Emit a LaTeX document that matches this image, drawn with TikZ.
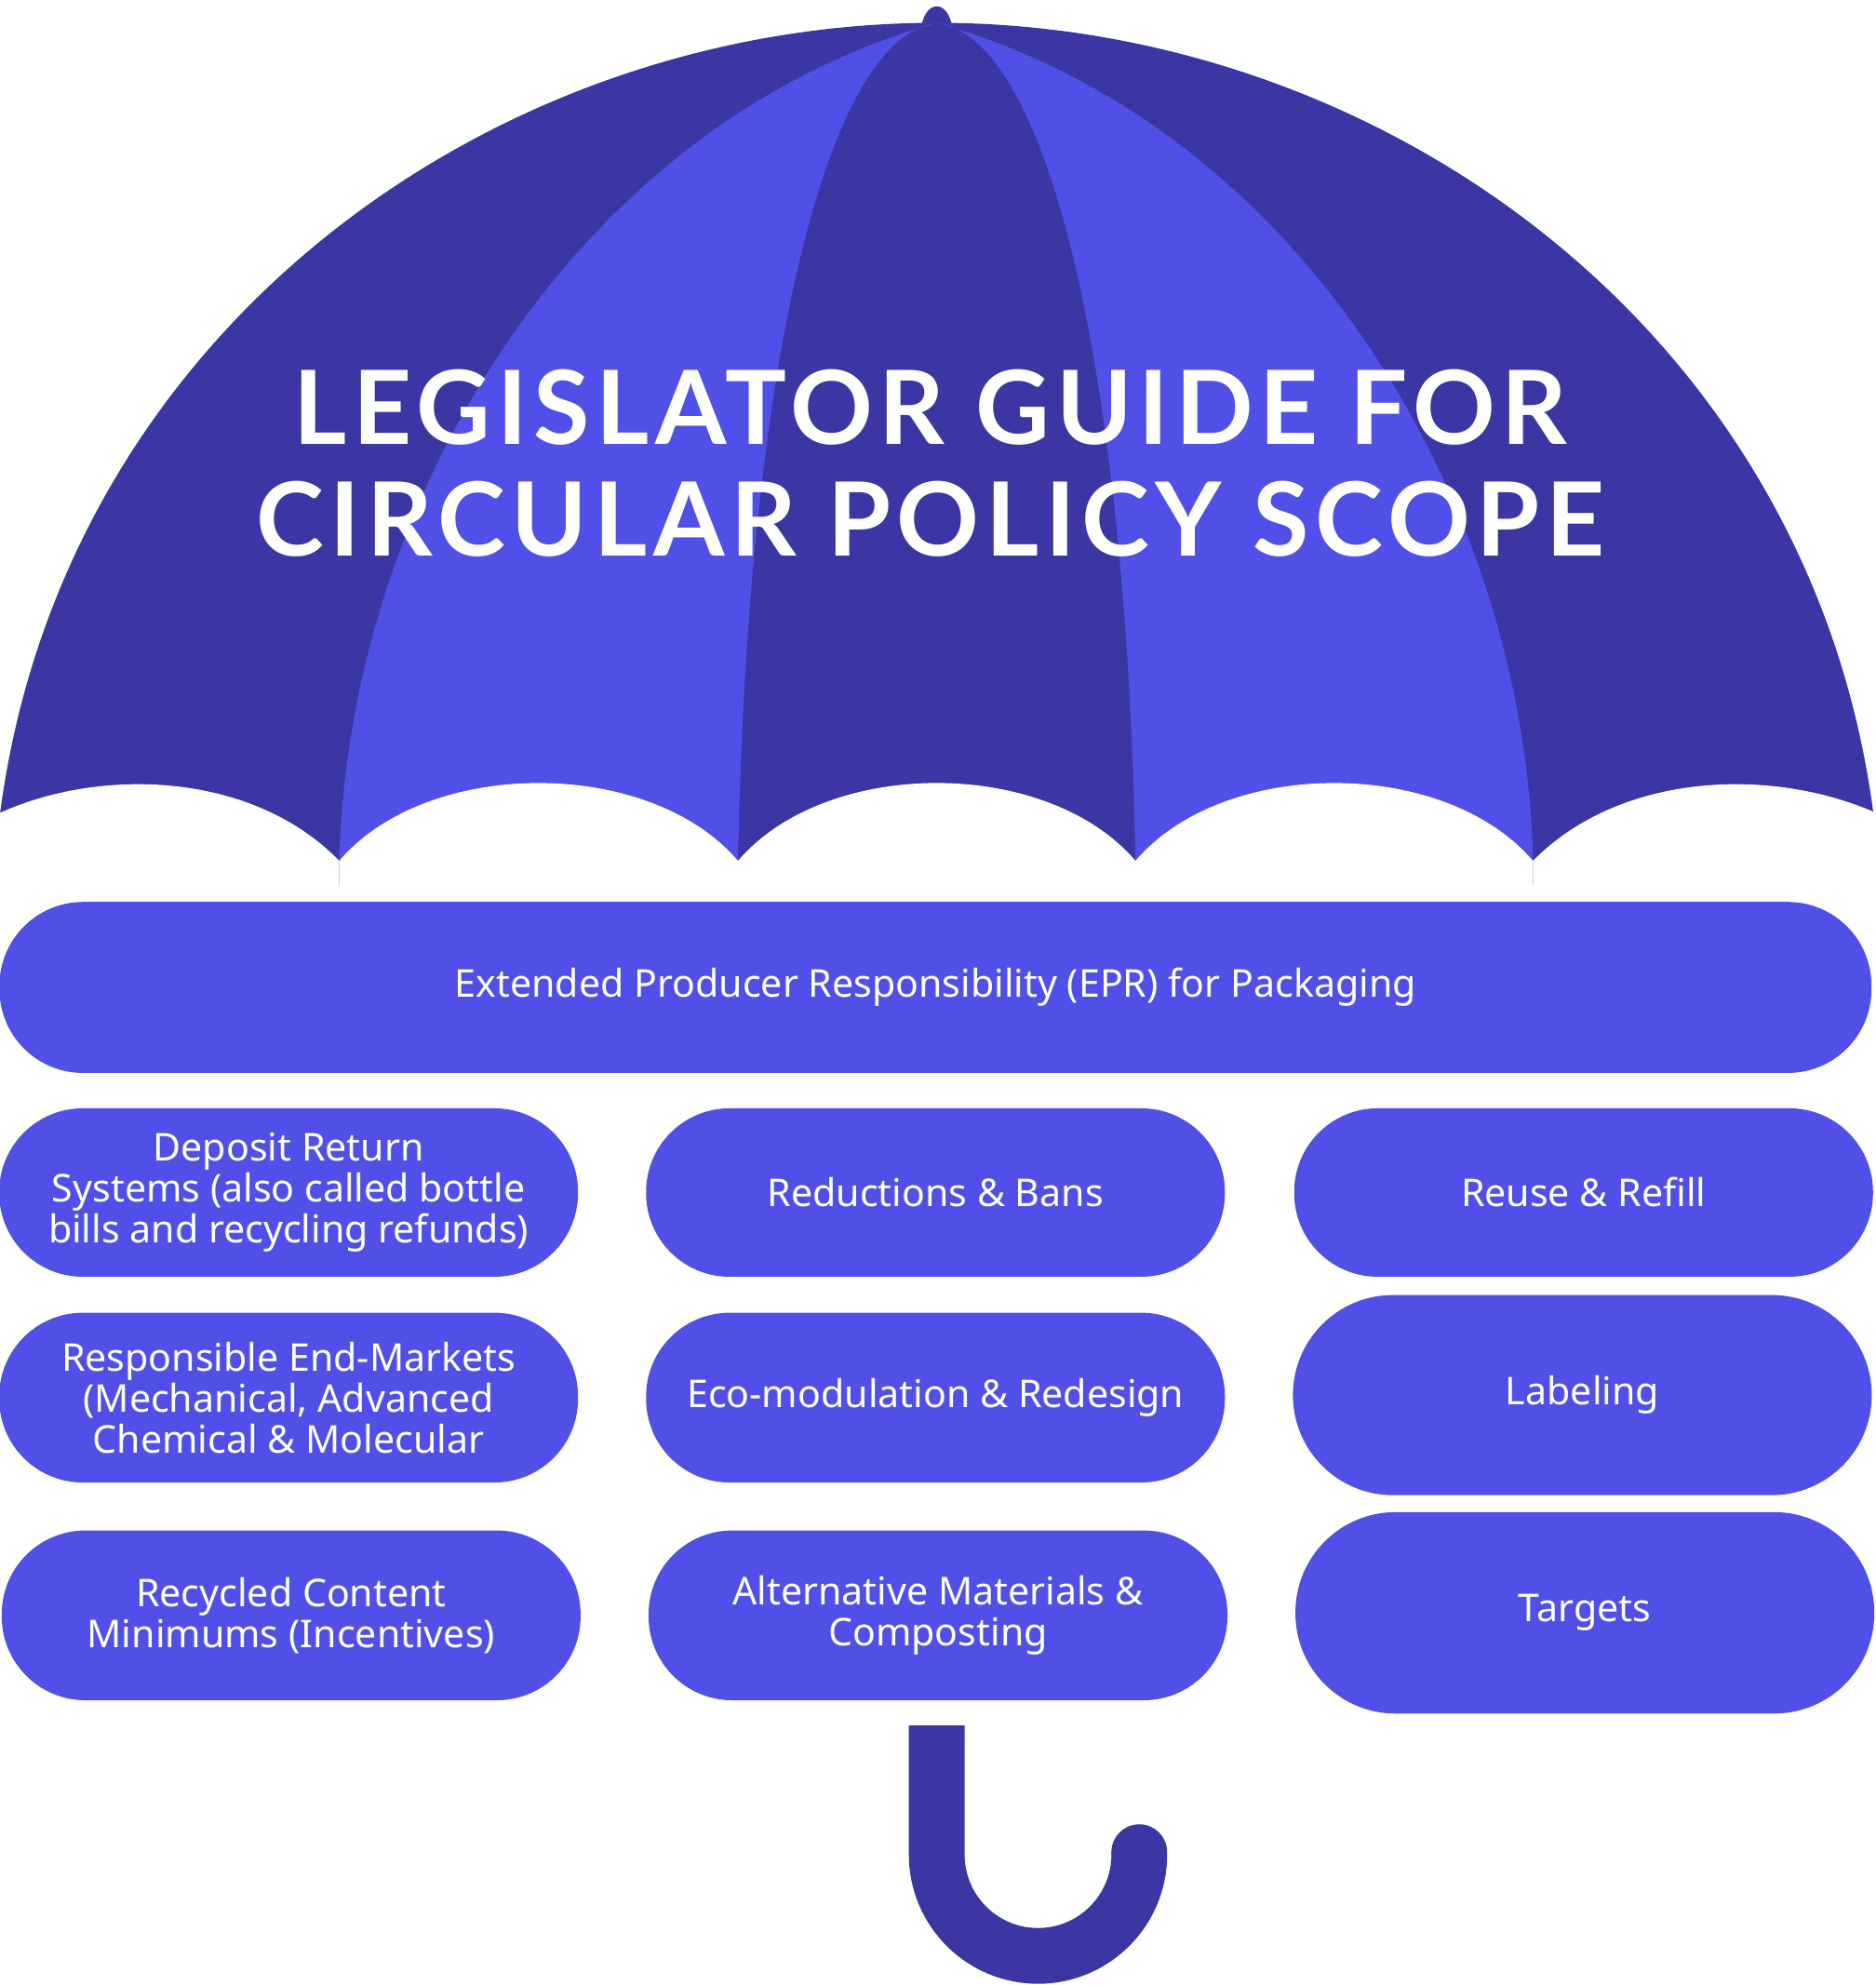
\documentclass[tikz,border=0pt]{standalone}
\usepackage{fontspec}
\setmainfont{Noto Sans}
\newfontfamily\tf{Lato}[LetterSpace=6]
\definecolor{dk}{HTML}{3A36A3}
\definecolor{lt}{HTML}{5050E8}
\begin{document}
\begin{tikzpicture}[x=0.01cm,y=-0.01cm,
 pill/.style={fill=lt,rounded corners=0.66cm,text=white,align=center,font=\fontsize{8.6pt}{9.2pt}\selectfont,inner sep=0pt}]
\useasboundingbox (0,0) rectangle (1482,1568);
% dome
\fill[dk] (0,643) .. controls (50,260) and (390,18) .. (740,18) .. controls (1090,18) and (1430,260) .. (1480,643) -- (1480,700) -- (0,700) -- cycle;
\fill[dk] (728,20) .. controls (732,0) and (748,0) .. (752,20) -- cycle;
\fill[lt] (740,18) .. controls (450,100) and (275,400) .. (268,680) -- (583,680) .. controls (590,300) and (650,30) .. (740,18) -- cycle;
\fill[lt] (740,18) .. controls (1030,100) and (1205,400) .. (1211,680) -- (897,680) .. controls (890,300) and (830,30) .. (740,18) -- cycle;
% scallops
\fill[white] (-2,643) .. controls (80,605) and (200,610) .. (268,680) -- (268,710) -- (-2,710) -- cycle;
\foreach \a/\b in {268/583,583/897,897/1211}{
 \fill[white] (\a,680) .. controls (\a+70,598) and (\b-70,598) .. (\b,680) -- (\b,710) -- (\a,710) -- cycle;}
\fill[white] (1211,680) .. controls (1280,610) and (1400,605) .. (1484,643) -- (1484,710) -- (1211,710) -- cycle;
\node[text=white,font=\fontsize{23pt}{25pt}\selectfont\tf\bfseries,align=center] (title) at (735,366) {LEGISLATOR GUIDE FOR\\CIRCULAR POLICY SCOPE};
% pills
\node[pill,minimum width=14.78cm,minimum height=1.35cm] (epr) at (739,780) {Extended Producer Responsibility (EPR) for Packaging};
\node[pill,minimum width=4.57cm,minimum height=1.33cm] (a1) at (228,942) {Deposit Return\\Systems (also called bottle\\bills and recycling refunds)};
\node[pill,minimum width=4.57cm,minimum height=1.33cm] (b1) at (739,942) {Reductions \& Bans};
\node[pill,minimum width=4.57cm,minimum height=1.33cm] (c1) at (1251,942) {Reuse \& Refill};
\node[pill,minimum width=4.57cm,minimum height=1.34cm] (a2) at (228,1104) {Responsible End-Markets\\(Mechanical, Advanced\\Chemical \& Molecular};
\node[pill,minimum width=4.57cm,minimum height=1.34cm] (b2) at (739,1104) {Eco-modulation \& Redesign};
\node[pill,minimum width=4.57cm,minimum height=1.58cm,rounded corners=0.79cm] (c2) at (1250,1102) {Labeling};
\node[pill,minimum width=4.57cm,minimum height=1.34cm] (a3) at (230,1276) {Recycled Content\\Minimums (Incentives)};
\node[pill,minimum width=4.57cm,minimum height=1.34cm] (b3) at (741,1276) {Alternative Materials \&\\Composting};
\node[pill,minimum width=4.57cm,minimum height=1.59cm,rounded corners=0.79cm] (c3) at (1252,1274) {Targets};
% handle
\draw[dk,line width=0.44cm] (740,1363) -- (740,1465) arc[start angle=180,end angle=0,radius=80] -- (900,1463);
\fill[dk] (900,1463) circle (22);
\end{tikzpicture}
\end{document}
